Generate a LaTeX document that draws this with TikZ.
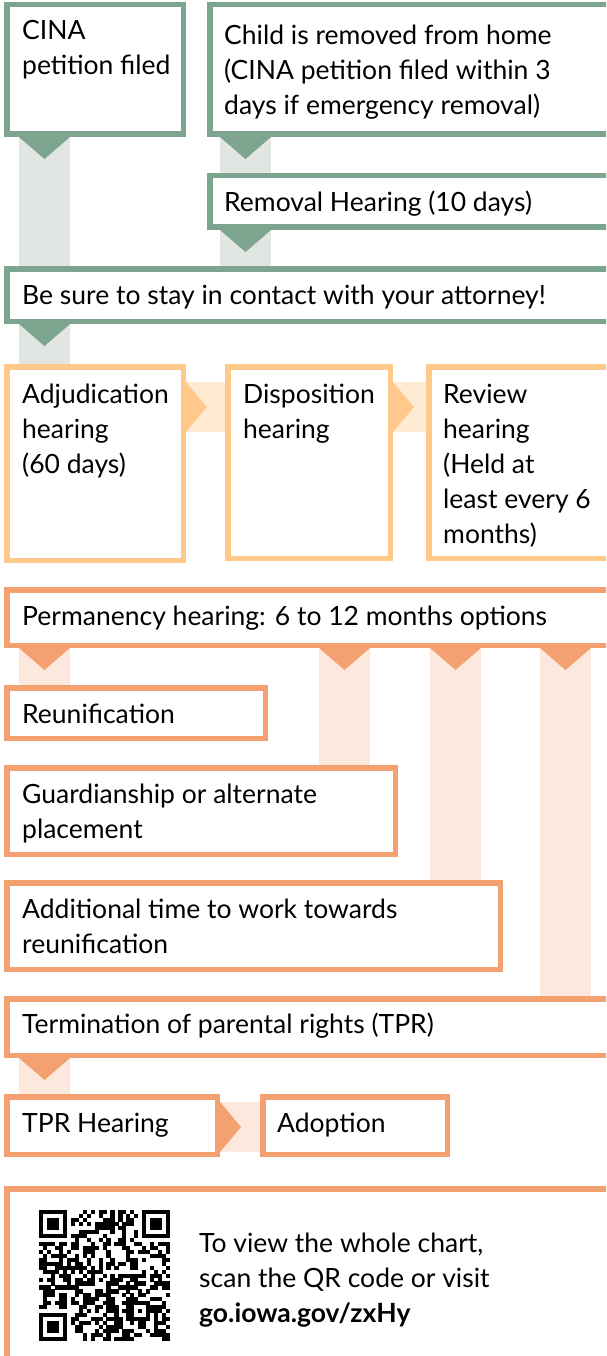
\documentclass[tikz,border=0pt]{standalone}
\usepackage{fontspec}
\setmainfont{Lato}
\usetikzlibrary{calc}

\definecolor{sage}{HTML}{7DA48F}
\definecolor{sagelight}{HTML}{E1E6E2}
\definecolor{apricot}{HTML}{FFC98B}
\definecolor{apricotlight}{HTML}{FFEBD4}
\definecolor{salmon}{HTML}{F4A172}
\definecolor{salmonlight}{HTML}{FCE8DC}

% wide arrow going down: band colour, tip colour, left x, from, to
\newcommand\downband[5]{%
  \fill[#1] let \p1=(#4.south), \p2=(#5.north) in (#3pt,\y1) rectangle ({#3pt+51pt},\y2);
  \fill[#2] let \p1=(#4.south) in (#3pt,\y1) -- ({#3pt+51pt},\y1) -- ({#3pt+25.5pt},{\y1-22pt}) -- cycle;
}
% wide arrow going right: band colour, tip colour, top y, from, to
\newcommand\rightband[5]{%
  \fill[#1] let \p1=(#4.east), \p2=(#5.west) in (\x1,-#3pt) rectangle (\x2,{-#3pt-50pt});
  \fill[#2] let \p1=(#4.east) in (\x1,-#3pt) -- (\x1,{-#3pt-50pt}) -- ({\x1+21pt},{-#3pt-25pt}) -- cycle;
}

\begin{document}
\begin{tikzpicture}[x=1pt, y=-1pt]
    \tikzstyle{every node}=[inner sep=0pt, font=\fontsize{26.5}{35}\selectfont]
    \tikzstyle{box}=[draw, line width=5.5pt, anchor=north west]
    \tikzstyle{txt}=[anchor=base west, align=left, text=black]
    \clip (0,0) rectangle (606,1356);

    % filing and removal
    \node [box, sage, minimum width=176.5, minimum height=129.5] (cina) at (4,2) {};
    \node [box, sage, minimum width=414.5, minimum height=129.5] (child) at (207,2) {};
    \node [box, sage, minimum width=414.5, minimum height=51.5] (removal) at (207,173) {};
    \node [box, sage, minimum width=634.5, minimum height=52.5] (contact) at (4,266) {};

    % hearings
    \node [box, apricot, minimum width=176.5, minimum height=193.5] (adj) at (4,364) {};
    \node [box, apricot, minimum width=162.5, minimum height=191.5] (disp) at (225,364) {};
    \node [box, apricot, minimum width=194.5, minimum height=191.5] (review) at (426,364) {};

    % permanency options
    \node [box, salmon, minimum width=634.5, minimum height=55.5] (perm) at (4,587) {};
    \node [box, salmon, minimum width=258.5, minimum height=50.5] (reun) at (4,685) {};
    \node [box, salmon, minimum width=388.5, minimum height=86.5] (guard) at (4,765) {};
    \node [box, salmon, minimum width=493.5, minimum height=86.5] (addl) at (4,880) {};
    \node [box, salmon, minimum width=634.5, minimum height=56.5] (term) at (4,996) {};
    \node [box, salmon, minimum width=210.5, minimum height=57.5] (tprh) at (4,1094) {};
    \node [box, salmon, minimum width=184.5, minimum height=57.5] (adopt) at (260,1094) {};
    \node [box, salmon, minimum width=634.5, minimum height=250] (scan) at (4,1186) {};

    \downband{sagelight}{sage}{19}{cina}{contact}
    \downband{sagelight}{sage}{220}{child}{removal}
    \downband{sagelight}{sage}{220}{removal}{contact}
    \downband{sagelight}{sage}{19}{contact}{adj}
    \rightband{apricotlight}{apricot}{382}{adj}{disp}
    \rightband{apricotlight}{apricot}{382}{disp}{review}
    \downband{salmonlight}{salmon}{19}{perm}{reun}
    \downband{salmonlight}{salmon}{319}{perm}{guard}
    \downband{salmonlight}{salmon}{430}{perm}{addl}
    \downband{salmonlight}{salmon}{540}{perm}{term}
    \downband{salmonlight}{salmon}{19}{term}{tprh}
    \rightband{salmonlight}{salmon}{1102}{tprh}{adopt}

    % base anchor sits on the last line
    \node [txt] (cina-t) at (22,75) {CINA\\petition filed};
    \node [txt] (child-t) at (224,115) {Child is removed from home\\(CINA petition filed within 3\\days if emergency removal)};
    \node [txt] (removal-t) at (224,212) {Removal Hearing (10 days)};
    \node [txt] (contact-t) at (22,304) {Be sure to stay in contact with your attorney!};
    \node [txt] (adj-t) at (22,473) {Adjudication\\hearing\\(60 days)};
    \node [txt] (disp-t) at (243,438) {Disposition\\hearing};
    \node [txt] (review-t) at (443,543) {Review\\hearing\\(Held at\\least every 6\\months)};
    \node [txt] (perm-t) at (22,625) {Permanency hearing: 6 to 12 months options};
    \node [txt] (reun-t) at (22,723) {Reunification};
    \node [txt] (guard-t) at (22,838) {Guardianship or alternate\\placement};
    \node [txt] (addl-t) at (22,953) {Additional time to work towards\\reunification};
    \node [txt] (term-t) at (22,1033) {Termination of parental rights (TPR)};
    \node [txt] (tprh-t) at (22,1132) {TPR Hearing};
    \node [txt] (adopt-t) at (277,1132) {Adoption};
    \node [txt] (scan-t) at (199,1322) {To view the whole chart,\\scan the QR code or visit\\\textbf{go.iowa.gov/zxHy}};

    % QR code, 33 modules
    \pgfmathsetseed{4217}
    \foreach \i in {0,...,32}{
        \foreach \j in {0,...,32}{
            \pgfmathtruncatemacro\bit{((\i<8 && \j<8) || (\i>24 && \j<8) || (\i<8 && \j>24) || (\i>22 && \i<28 && \j>22 && \j<28)) ? 0 : random(0,1)}
            \ifnum\bit=1 \fill (39+\i*3.97,1210+\j*3.97) rectangle ++(4.1,4.1); \fi
        }
    }
    \foreach \cx/\cy in {0/0, 26/0, 0/26}{
        \fill (39+\cx*3.97,1210+\cy*3.97) rectangle ++(27.8,27.8);
        \fill[white] (39+\cx*3.97+3.97,1210+\cy*3.97+3.97) rectangle ++(19.85,19.85);
        \fill (39+\cx*3.97+7.94,1210+\cy*3.97+7.94) rectangle ++(11.91,11.91);
    }
    \fill (39+23*3.97,1210+23*3.97) rectangle ++(19.85,19.85);
    \fill[white] (39+24*3.97,1210+24*3.97) rectangle ++(11.91,11.91);
    \fill (39+25*3.97,1210+25*3.97) rectangle ++(3.97,3.97);
\end{tikzpicture}
\end{document}
